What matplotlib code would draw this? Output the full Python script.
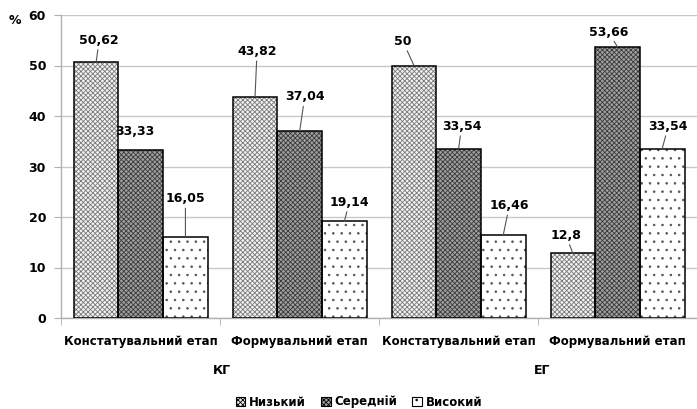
import matplotlib
matplotlib.use("Agg")
import matplotlib.pyplot as plt
from matplotlib.patches import Patch
import numpy as np

categories = ["Констатувальний етап", "Формувальний етап", "Констатувальний етап", "Формувальний етап"]
groups = ["КГ", "ЕГ"]
series_names = ["Низький", "Середній", "Високий"]
low = [50.62, 43.82, 50.0, 12.8]
mid = [33.33, 37.04, 33.54, 53.66]
high = [16.05, 19.14, 16.46, 33.54]
label_texts = [["50,62", "43,82", "50", "12,8"],
               ["33,33", "37,04", "33,54", "53,66"],
               ["16,05", "19,14", "16,46", "33,54"]]
yticks = [0, 10, 20, 30, 40, 50, 60]

# label offsets in pixels (dx, dy) and whether a leader line is drawn
offsets = [[(3, 22), (2, 45), (-11, 24), (-7, 18)],
           [(-6, 18), (5, 34), (3, 22), (-9, 15)],
           [(0, 38), (5, 19), (6, 29), (6, 22)]]
leader = [[True, True, True, True],
          [False, True, True, True],
          [True, True, True, True]]

plt.rcParams["hatch.linewidth"] = 0.6

styles = [dict(fc="#f2f2f2", hc="#7a7a7a", hatch="xxxxxxx"),
          dict(fc="#a0a0a0", hc="#3a3a3a", hatch="xxxxxxx"),
          dict(fc="white", hc="#555555", hatch="..")]

fig = plt.figure(figsize=(6.97, 4.09), dpi=100)
ax = fig.add_axes([61.3 / 697, 1 - 318 / 409, 1 - 61.3 / 697, (318 - 15) / 409])

x = np.arange(len(categories))
w = 0.281
data = [low, mid, high]
for i, vals in enumerate(data):
    pos = x + (i - 1) * w
    st = styles[i]
    ax.bar(pos, vals, w, color=st["fc"], edgecolor=st["hc"], hatch=st["hatch"], linewidth=0, zorder=2)
    ax.bar(pos, vals, w, fill=False, edgecolor="black", linewidth=1.1, zorder=3)
    for j, v in enumerate(vals):
        dx, dy = offsets[i][j]
        ap = dict(arrowstyle="-", color="#555555", lw=0.8, shrinkA=0, shrinkB=0) if leader[i][j] else None
        ax.annotate(label_texts[i][j], xy=(pos[j], v), xytext=(dx, dy), textcoords="offset pixels",
                    ha="center", va="center", fontsize=9, fontweight="bold", family="DejaVu Sans",
                    arrowprops=ap, zorder=4)

ax.set_ylim(0, 60)
ax.set_xlim(-0.5, (697 - 61.3) / 160.3 - 0.5)
ax.set_yticks(yticks)
ax.set_yticklabels([str(t) for t in yticks], fontsize=9, fontweight="bold")
ax.yaxis.grid(True, color="#c8c8c8", linewidth=1.0, zorder=0)
ax.set_axisbelow(True)
ax.tick_params(axis="y", length=5, color="#b0b0b0", pad=6)
ax.set_xticks(x)
ax.set_xticklabels(categories, fontsize=8.5, fontweight="bold", family=["Liberation Sans Narrow", "DejaVu Sans"])
ax.tick_params(axis="x", which="major", length=0, pad=12)
ax.set_xticks(np.arange(-0.5, len(categories), 1.0), minor=True)
ax.tick_params(axis="x", which="minor", length=5, color="#b0b0b0")
for s in ["top", "right"]:
    ax.spines[s].set_visible(False)
for s in ["left", "bottom"]:
    ax.spines[s].set_color("#b0b0b0")
    ax.spines[s].set_linewidth(1.0)

for k, g in enumerate(groups):
    fig.text((61.3 + 160.3 * (2 * k + 1)) / 697, 1 - 370 / 409, g, ha="center", va="center",
             fontsize=9, fontweight="bold", family=["Liberation Sans Narrow", "DejaVu Sans"])
fig.text(15 / 697, 1 - 20 / 409, "%", ha="center", va="center", fontsize=9, fontweight="bold")

handles = [Patch(facecolor=st["fc"], edgecolor="black", hatch=st["hatch"], linewidth=0.8) for st in styles]
leg = fig.legend(handles, series_names, loc="center", bbox_to_anchor=(359 / 697, 1 - 402 / 409), ncol=3,
                 frameon=False, handlelength=0.8, handleheight=0.8, handletextpad=0.3, columnspacing=1.3,
                 prop=dict(size=8.5, weight="bold", family=["Liberation Sans Narrow", "DejaVu Sans"]))

fig.savefig("out.png", dpi=100)
